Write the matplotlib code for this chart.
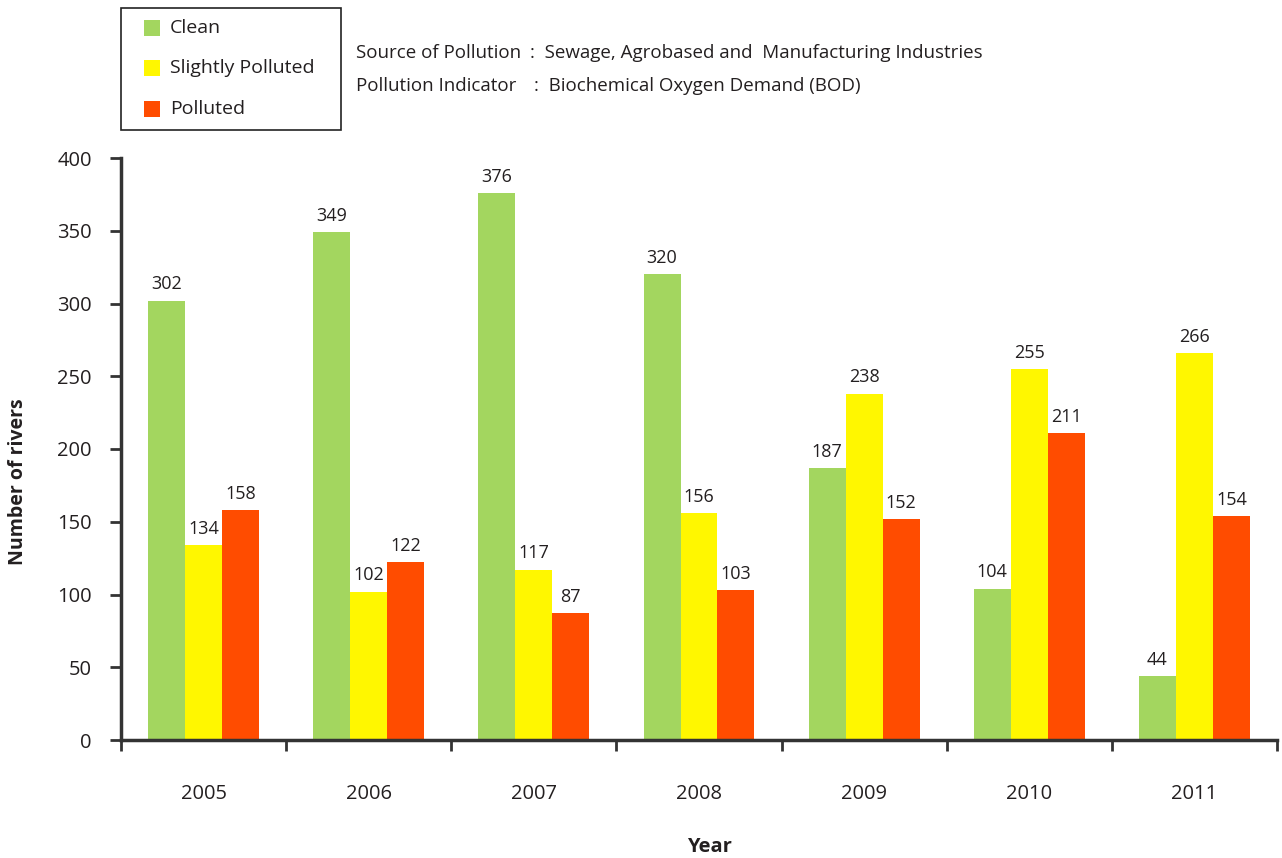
import numpy as np
import matplotlib.pyplot as plt
from matplotlib.patches import Rectangle

plt.rcParams['font.family'] = ['Open Sans', 'DejaVu Sans']

years = ['2005', '2006', '2007', '2008', '2009', '2010', '2011']
clean = [302, 349, 376, 320, 187, 104, 44]
slightly = [134, 102, 117, 156, 238, 255, 266]
polluted = [158, 122, 87, 103, 152, 211, 154]

series_names = ['Clean', 'Slightly Polluted', 'Polluted']
colors = ['#A3D65F', '#FFF700', '#FF4C00']
text_color = '#231F20'

W, H = 1282, 858
fig = plt.figure(figsize=(W / 100, H / 100), dpi=100)
ax = fig.add_axes([121 / W, 1 - 740 / H, (1277 - 121) / W, (740 - 158) / H])

x = np.arange(len(years))
bw = 0.224
for k, (vals, col) in enumerate(zip([clean, slightly, polluted], colors)):
    pos = x + (k - 1) * bw
    ax.bar(pos, vals, width=bw, color=col, edgecolor='none')
    for p, v in zip(pos, vals):
        ax.text(p, v + 5, str(v), ha='center', va='bottom', fontsize=13, color=text_color)

ax.set_xlim(-0.5, len(years) - 0.5)
ax.set_ylim(0, 400)
ax.set_yticks(range(0, 401, 50))
ax.set_xticks(np.arange(len(years) + 1) - 0.5)
ax.set_xticklabels([])
ax.tick_params(axis='x', direction='out', length=8, width=2, color='#333333')
ax.tick_params(axis='y', direction='out', length=8, width=2, color='#333333',
               labelsize=14.5, labelcolor=text_color, pad=13)
for i, yr in enumerate(years):
    ax.text(i, -37, yr, ha='center', va='center', fontsize=14.5, color=text_color)

for s in ['top', 'right']:
    ax.spines[s].set_visible(False)
for s in ['left', 'bottom']:
    ax.spines[s].set_linewidth(2.5)
    ax.spines[s].set_color('#333333')

fig.text(18 / W, 1 - 482 / H, 'Number of rivers', rotation=90, ha='center', va='center',
         fontsize=14, fontweight='bold', color=text_color)
fig.text(709 / W, 1 - 847 / H, 'Year', ha='center', va='center',
         fontsize=14.5, fontweight='bold', color=text_color)

# legend box
fig.add_artist(Rectangle((121 / W, 1 - 130 / H), (341 - 121) / W, (130 - 8) / H,
                         transform=fig.transFigure, fill=False, edgecolor='#222222', lw=1.2))
for name, col, yy in zip(series_names, colors, [28, 68, 109]):
    fig.add_artist(Rectangle((144 / W, 1 - (yy + 8) / H), 16 / W, 16 / H,
                             transform=fig.transFigure, facecolor=col, edgecolor='none'))
    fig.text(170 / W, 1 - yy / H, name, ha='left', va='center', fontsize=14, color=text_color)

fig.text(356 / W, 1 - 53 / H, 'Source of Pollution', ha='left', va='center', fontsize=13.5, color=text_color)
fig.text(530 / W, 1 - 53 / H, ':  Sewage, Agrobased and  Manufacturing Industries',
         ha='left', va='center', fontsize=13.5, color=text_color)
fig.text(356 / W, 1 - 86 / H, 'Pollution Indicator', ha='left', va='center', fontsize=13.5, color=text_color)
fig.text(534 / W, 1 - 86 / H, ':  Biochemical Oxygen Demand (BOD)',
         ha='left', va='center', fontsize=13.5, color=text_color)

fig.savefig('out.png', dpi=100)
